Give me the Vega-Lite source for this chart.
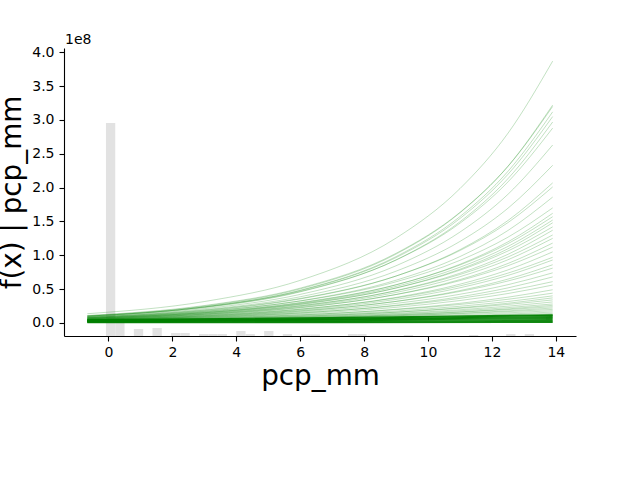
{
 "$schema": "https://vega.github.io/schema/vega-lite/v6.json",
 "autosize": {"type": "none"},
 "width": 512,
 "height": 288,
 "padding": {"left": 64, "top": 48, "right": 64, "bottom": 144},
 "background": "white",
 "config": {
  "view": {"stroke": null},
  "font": "DejaVu Sans",
  "axis": {"grid": false, "domainColor": "black", "tickColor": "black", "labelColor": "black", "titleColor": "black", "domainWidth": 1.1, "tickWidth": 1.1, "tickSize": 5, "labelFont": "DejaVu Sans", "labelFontSize": 14, "titleFont": "DejaVu Sans", "titleFontSize": 27.8, "titleFontWeight": "normal"}
 },
 "title": {"text": "1e8", "anchor": "start", "frame": "group", "fontSize": 14, "fontWeight": "normal", "font": "DejaVu Sans", "baseline": "alphabetic", "offset": 4, "dx": 1, "dy": 17, "color": "black"},
 "datasets": {
  "hist": [
   {"x0": -0.0776, "x1": 0.2136, "count": 426},
   {"x0": 0.2136, "x1": 0.5048, "count": 36},
   {"x0": 0.796, "x1": 1.0872, "count": 14},
   {"x0": 1.3784, "x1": 1.6696, "count": 16},
   {"x0": 1.9608, "x1": 2.252, "count": 6},
   {"x0": 2.252, "x1": 2.5432, "count": 6},
   {"x0": 2.8344, "x1": 3.1256, "count": 4},
   {"x0": 3.1256, "x1": 3.4168, "count": 4},
   {"x0": 3.4168, "x1": 3.708, "count": 4},
   {"x0": 3.9992, "x1": 4.2904, "count": 10},
   {"x0": 4.2904, "x1": 4.5816, "count": 4},
   {"x0": 4.8728, "x1": 5.164, "count": 10},
   {"x0": 5.4552, "x1": 5.7464, "count": 4},
   {"x0": 6.0376, "x1": 6.3288, "count": 3},
   {"x0": 6.3288, "x1": 6.62, "count": 3},
   {"x0": 7.4936, "x1": 7.7848, "count": 4},
   {"x0": 7.7848, "x1": 8.076, "count": 4},
   {"x0": 9.2408, "x1": 9.532, "count": 2},
   {"x0": 11.2792, "x1": 11.5704, "count": 2},
   {"x0": 12.444, "x1": 12.7352, "count": 4},
   {"x0": 13.0264, "x1": 13.3176, "count": 4}
  ],
  "band": [
   {"b": 1, "x": -0.66, "y": 0.003e8}, {"b": 1, "x": 7, "y": 0.005e8}, {"b": 1, "x": 13.9, "y": 0.008e8},
   {"b": 2, "x": -0.66, "y": 0.01e8}, {"b": 2, "x": 7, "y": 0.015e8}, {"b": 2, "x": 13.9, "y": 0.02e8},
   {"b": 3, "x": -0.66, "y": 0.015e8}, {"b": 3, "x": 7, "y": 0.023e8}, {"b": 3, "x": 13.9, "y": 0.035e8},
   {"b": 4, "x": -0.66, "y": 0.02e8}, {"b": 4, "x": 7, "y": 0.032e8}, {"b": 4, "x": 13.9, "y": 0.05e8},
   {"b": 5, "x": -0.66, "y": 0.025e8}, {"b": 5, "x": 7, "y": 0.04e8}, {"b": 5, "x": 13.9, "y": 0.065e8},
   {"b": 6, "x": -0.66, "y": 0.03e8}, {"b": 6, "x": 7, "y": 0.048e8}, {"b": 6, "x": 13.9, "y": 0.08e8},
   {"b": 7, "x": -0.66, "y": 0.035e8}, {"b": 7, "x": 7, "y": 0.057e8}, {"b": 7, "x": 13.9, "y": 0.095e8},
   {"b": 8, "x": -0.66, "y": 0.04e8}, {"b": 8, "x": 7, "y": 0.066e8}, {"b": 8, "x": 13.9, "y": 0.11e8},
   {"b": 9, "x": -0.66, "y": 0.05e8}, {"b": 9, "x": 7, "y": 0.077e8}, {"b": 9, "x": 13.9, "y": 0.12e8}
  ],
  "ice": [
   {"g":1,"x":-0.66,"y":0.136e8},{"g":1,"x":3,"y":0.3156e8},{"g":1,"x":6,"y":0.629e8},{"g":1,"x":9,"y":1.254e8},{"g":1,"x":11,"y":1.986e8},{"g":1,"x":12.5,"y":2.803e8},{"g":1,"x":13.9,"y":3.87e8},
   {"g":2,"x":-0.66,"y":0.105e8},{"g":2,"x":3,"y":0.248e8},{"g":2,"x":6,"y":0.5025e8},{"g":2,"x":9,"y":1.0176e8},{"g":2,"x":11,"y":1.628e8},{"g":2,"x":12.5,"y":2.316e8},{"g":2,"x":13.9,"y":3.22e8},
   {"g":3,"x":-0.66,"y":0.11e8},{"g":3,"x":3,"y":0.2566e8},{"g":3,"x":6,"y":0.5138e8},{"g":3,"x":9,"y":1.029e8},{"g":3,"x":11,"y":1.635e8},{"g":3,"x":12.5,"y":2.313e8},{"g":3,"x":13.9,"y":3.2e8},
   {"g":4,"x":-0.66,"y":0.1e8},{"g":4,"x":3,"y":0.2374e8},{"g":4,"x":6,"y":0.4824e8},{"g":4,"x":9,"y":0.98e8},{"g":4,"x":11,"y":1.572e8},{"g":4,"x":12.5,"y":2.24e8},{"g":4,"x":13.9,"y":3.12e8},
   {"g":5,"x":-0.66,"y":0.1e8},{"g":5,"x":3,"y":0.236e8},{"g":5,"x":6,"y":0.4775e8},{"g":5,"x":9,"y":0.966e8},{"g":5,"x":11,"y":1.544e8},{"g":5,"x":12.5,"y":2.196e8},{"g":5,"x":13.9,"y":3.05e8},
   {"g":6,"x":-0.66,"y":0.095e8},{"g":6,"x":3,"y":0.2257e8},{"g":6,"x":6,"y":0.4587e8},{"g":6,"x":9,"y":0.932e8},{"g":6,"x":11,"y":1.495e8},{"g":6,"x":12.5,"y":2.132e8},{"g":6,"x":13.9,"y":2.97e8},
   {"g":7,"x":-0.66,"y":0.1e8},{"g":7,"x":3,"y":0.2327e8},{"g":7,"x":6,"y":0.465e8},{"g":7,"x":9,"y":0.929e8},{"g":7,"x":11,"y":1.474e8},{"g":7,"x":12.5,"y":2.084e8},{"g":7,"x":13.9,"y":2.88e8},
   {"g":8,"x":-0.66,"y":0.09e8},{"g":8,"x":3,"y":0.2103e8},{"g":8,"x":6,"y":0.4214e8},{"g":8,"x":9,"y":0.845e8},{"g":8,"x":11,"y":1.343e8},{"g":8,"x":12.5,"y":1.901e8},{"g":8,"x":13.9,"y":2.63e8},
   {"g":9,"x":-0.66,"y":0.085e8},{"g":9,"x":3,"y":0.1954e8},{"g":9,"x":6,"y":0.3865e8},{"g":9,"x":9,"y":0.7647e8},{"g":9,"x":11,"y":1.2045e8},{"g":9,"x":12.5,"y":1.695e8},{"g":9,"x":13.9,"y":2.33e8},
   {"g":10,"x":-0.66,"y":0.08e8},{"g":10,"x":3,"y":0.1813e8},{"g":10,"x":6,"y":0.3543e8},{"g":10,"x":9,"y":0.6927e8},{"g":10,"x":11,"y":1.0828e8},{"g":10,"x":12.5,"y":1.5136e8},{"g":10,"x":13.9,"y":2.07e8},
   {"g":11,"x":-0.66,"y":0.085e8},{"g":11,"x":3,"y":0.1883e8},{"g":11,"x":6,"y":0.3612e8},{"g":11,"x":9,"y":0.6932e8},{"g":11,"x":11,"y":1.07e8},{"g":11,"x":12.5,"y":1.4825e8},{"g":11,"x":13.9,"y":2.01e8},
   {"g":12,"x":-0.66,"y":0.075e8},{"g":12,"x":3,"y":0.1681e8},{"g":12,"x":6,"y":0.3258e8},{"g":12,"x":9,"y":0.6314e8},{"g":12,"x":11,"y":0.981e8},{"g":12,"x":12.5,"y":1.366e8},{"g":12,"x":13.9,"y":1.86e8},
   {"g":13,"x":-0.66,"y":0.08e8},{"g":13,"x":3,"y":0.1725e8},{"g":13,"x":6,"y":0.3238e8},{"g":13,"x":9,"y":0.6078e8},{"g":13,"x":11,"y":0.925e8},{"g":13,"x":12.5,"y":1.267e8},{"g":13,"x":13.9,"y":1.7e8},
   {"g":14,"x":-0.66,"y":0.07e8},{"g":14,"x":3,"y":0.1542e8},{"g":14,"x":6,"y":0.2946e8},{"g":14,"x":9,"y":0.5628e8},{"g":14,"x":11,"y":0.8666e8},{"g":14,"x":12.5,"y":1.198e8},{"g":14,"x":13.9,"y":1.62e8},
   {"g":15,"x":-0.66,"y":0.075e8},{"g":15,"x":3,"y":0.1611e8},{"g":15,"x":6,"y":0.3014e8},{"g":15,"x":9,"y":0.5641e8},{"g":15,"x":11,"y":0.8565e8},{"g":15,"x":12.5,"y":1.1715e8},{"g":15,"x":13.9,"y":1.57e8},
   {"g":16,"x":-0.66,"y":0.07e8},{"g":16,"x":3,"y":0.1518e8},{"g":16,"x":6,"y":0.2861e8},{"g":16,"x":9,"y":0.5396e8},{"g":16,"x":11,"y":0.8232e8},{"g":16,"x":12.5,"y":1.1305e8},{"g":16,"x":13.9,"y":1.52e8},
   {"g":17,"x":-0.66,"y":0.065e8},{"g":17,"x":3,"y":0.1426e8},{"g":17,"x":6,"y":0.2715e8},{"g":17,"x":9,"y":0.517e8},{"g":17,"x":11,"y":0.7937e8},{"g":17,"x":12.5,"y":1.095e8},{"g":17,"x":13.9,"y":1.48e8},
   {"g":18,"x":-0.66,"y":0.07e8},{"g":18,"x":3,"y":0.1492e8},{"g":18,"x":6,"y":0.2774e8},{"g":18,"x":9,"y":0.5158e8},{"g":18,"x":11,"y":0.78e8},{"g":18,"x":12.5,"y":1.063e8},{"g":18,"x":13.9,"y":1.42e8},
   {"g":19,"x":-0.66,"y":0.06e8},{"g":19,"x":3,"y":0.1317e8},{"g":19,"x":6,"y":0.2509e8},{"g":19,"x":9,"y":0.4781e8},{"g":19,"x":11,"y":0.7345e8},{"g":19,"x":12.5,"y":1.014e8},{"g":19,"x":13.9,"y":1.37e8},
   {"g":20,"x":-0.66,"y":0.065e8},{"g":20,"x":3,"y":0.138e8},{"g":20,"x":6,"y":0.2558e8},{"g":20,"x":9,"y":0.4744e8},{"g":20,"x":11,"y":0.7158e8},{"g":20,"x":12.5,"y":0.9744e8},{"g":20,"x":13.9,"y":1.3e8},
   {"g":21,"x":-0.66,"y":0.06e8},{"g":21,"x":3,"y":0.1287e8},{"g":21,"x":6,"y":0.2407e8},{"g":21,"x":9,"y":0.4499e8},{"g":21,"x":11,"y":0.6828e8},{"g":21,"x":12.5,"y":0.9335e8},{"g":21,"x":13.9,"y":1.25e8},
   {"g":22,"x":-0.66,"y":0.055e8},{"g":22,"x":3,"y":0.1189e8},{"g":22,"x":6,"y":0.2236e8},{"g":22,"x":9,"y":0.4205e8},{"g":22,"x":11,"y":0.6407e8},{"g":22,"x":12.5,"y":0.8785e8},{"g":22,"x":13.9,"y":1.18e8},
   {"g":23,"x":-0.66,"y":0.06e8},{"g":23,"x":3,"y":0.1252e8},{"g":23,"x":6,"y":0.2289e8},{"g":23,"x":9,"y":0.4184e8},{"g":23,"x":11,"y":0.6253e8},{"g":23,"x":12.5,"y":0.8454e8},{"g":23,"x":13.9,"y":1.12e8},
   {"g":24,"x":-0.66,"y":0.05e8},{"g":24,"x":3,"y":0.1075e8},{"g":24,"x":6,"y":0.2013e8},{"g":24,"x":9,"y":0.3769e8},{"g":24,"x":11,"y":0.5726e8},{"g":24,"x":12.5,"y":0.7835e8},{"g":24,"x":13.9,"y":1.05e8},
   {"g":25,"x":-0.66,"y":0.055e8},{"g":25,"x":3,"y":0.1132e8},{"g":25,"x":6,"y":0.2044e8},{"g":25,"x":9,"y":0.3693e8},{"g":25,"x":11,"y":0.5477e8},{"g":25,"x":12.5,"y":0.736e8},{"g":25,"x":13.9,"y":0.97e8},
   {"g":26,"x":-0.66,"y":0.05e8},{"g":26,"x":3,"y":0.1043e8},{"g":26,"x":6,"y":0.1904e8},{"g":26,"x":9,"y":0.3478e8},{"g":26,"x":11,"y":0.5195e8},{"g":26,"x":12.5,"y":0.702e8},{"g":26,"x":13.9,"y":0.93e8},
   {"g":27,"x":-0.66,"y":0.045e8},{"g":27,"x":3,"y":0.0945e8},{"g":27,"x":6,"y":0.1735e8},{"g":27,"x":9,"y":0.3186e8},{"g":27,"x":11,"y":0.478e8},{"g":27,"x":12.5,"y":0.6476e8},{"g":27,"x":13.9,"y":0.86e8},
   {"g":28,"x":-0.66,"y":0.05e8},{"g":28,"x":3,"y":0.1007e8},{"g":28,"x":6,"y":0.1787e8},{"g":28,"x":9,"y":0.3174e8},{"g":28,"x":11,"y":0.4651e8},{"g":28,"x":12.5,"y":0.6196e8},{"g":28,"x":13.9,"y":0.81e8},
   {"g":29,"x":-0.66,"y":0.045e8},{"g":29,"x":3,"y":0.091e8},{"g":29,"x":6,"y":0.162e8},{"g":29,"x":9,"y":0.2885e8},{"g":29,"x":11,"y":0.4236e8},{"g":29,"x":12.5,"y":0.565e8},{"g":29,"x":13.9,"y":0.74e8},
   {"g":30,"x":-0.66,"y":0.04e8},{"g":30,"x":3,"y":0.0815e8},{"g":30,"x":6,"y":0.1462e8},{"g":30,"x":9,"y":0.2621e8},{"g":30,"x":11,"y":0.3867e8},{"g":30,"x":12.5,"y":0.5176e8},{"g":30,"x":13.9,"y":0.68e8},
   {"g":31,"x":-0.66,"y":0.045e8},{"g":31,"x":3,"y":0.0867e8},{"g":31,"x":6,"y":0.1483e8},{"g":31,"x":9,"y":0.2538e8},{"g":31,"x":11,"y":0.363e8},{"g":31,"x":12.5,"y":0.4748e8},{"g":31,"x":13.9,"y":0.61e8},
   {"g":32,"x":-0.66,"y":0.04e8},{"g":32,"x":3,"y":0.0777e8},{"g":32,"x":6,"y":0.1338e8},{"g":32,"x":9,"y":0.2304e8},{"g":32,"x":11,"y":0.331e8},{"g":32,"x":12.5,"y":0.4344e8},{"g":32,"x":13.9,"y":0.56e8},
   {"g":33,"x":-0.66,"y":0.035e8},{"g":33,"x":3,"y":0.068e8},{"g":33,"x":6,"y":0.117e8},{"g":33,"x":9,"y":0.2016e8},{"g":33,"x":11,"y":0.2897e8},{"g":33,"x":12.5,"y":0.38e8},{"g":33,"x":13.9,"y":0.49e8},
   {"g":34,"x":-0.66,"y":0.04e8},{"g":34,"x":3,"y":0.0731e8},{"g":34,"x":6,"y":0.1198e8},{"g":34,"x":9,"y":0.1964e8},{"g":34,"x":11,"y":0.2729e8},{"g":34,"x":12.5,"y":0.3494e8},{"g":34,"x":13.9,"y":0.44e8},
   {"g":35,"x":-0.66,"y":0.035e8},{"g":35,"x":3,"y":0.0646e8},{"g":35,"x":6,"y":0.1066e8},{"g":35,"x":9,"y":0.1762e8},{"g":35,"x":11,"y":0.2462e8},{"g":35,"x":12.5,"y":0.3164e8},{"g":35,"x":13.9,"y":0.4e8},
   {"g":36,"x":-0.66,"y":0.03e8},{"g":36,"x":3,"y":0.0564e8},{"g":36,"x":6,"y":0.0947e8},{"g":36,"x":9,"y":0.1589e8},{"g":36,"x":11,"y":0.2243e8},{"g":36,"x":12.5,"y":0.2905e8},{"g":36,"x":13.9,"y":0.37e8},
   {"g":37,"x":-0.66,"y":0.035e8},{"g":37,"x":3,"y":0.062e8},{"g":37,"x":6,"y":0.099e8},{"g":37,"x":9,"y":0.1582e8},{"g":37,"x":11,"y":0.2162e8},{"g":37,"x":12.5,"y":0.2732e8},{"g":37,"x":13.9,"y":0.34e8},
   {"g":38,"x":-0.66,"y":0.03e8},{"g":38,"x":3,"y":0.054e8},{"g":38,"x":6,"y":0.0873e8},{"g":38,"x":9,"y":0.1412e8},{"g":38,"x":11,"y":0.1946e8},{"g":38,"x":12.5,"y":0.2476e8},{"g":38,"x":13.9,"y":0.31e8},
   {"g":39,"x":-0.66,"y":0.03e8},{"g":39,"x":3,"y":0.0526e8},{"g":39,"x":6,"y":0.0833e8},{"g":39,"x":9,"y":0.1321e8},{"g":39,"x":11,"y":0.1795e8},{"g":39,"x":12.5,"y":0.2258e8},{"g":39,"x":13.9,"y":0.28e8},
   {"g":40,"x":-0.66,"y":0.025e8},{"g":40,"x":3,"y":0.045e8},{"g":40,"x":6,"y":0.073e8},{"g":40,"x":9,"y":0.1183e8},{"g":40,"x":11,"y":0.1631e8},{"g":40,"x":12.5,"y":0.2076e8},{"g":40,"x":13.9,"y":0.26e8},
   {"g":41,"x":-0.66,"y":0.03e8},{"g":41,"x":3,"y":0.0506e8},{"g":41,"x":6,"y":0.0777e8},{"g":41,"x":9,"y":0.1192e8},{"g":41,"x":11,"y":0.1586e8},{"g":41,"x":12.5,"y":0.1965e8},{"g":41,"x":13.9,"y":0.24e8},
   {"g":42,"x":-0.66,"y":0.025e8},{"g":42,"x":3,"y":0.0432e8},{"g":42,"x":6,"y":0.0676e8},{"g":42,"x":9,"y":0.1058e8},{"g":42,"x":11,"y":0.1427e8},{"g":42,"x":12.5,"y":0.1785e8},{"g":42,"x":13.9,"y":0.22e8},
   {"g":43,"x":-0.66,"y":0.03e8},{"g":43,"x":3,"y":0.0483e8},{"g":43,"x":6,"y":0.0714e8},{"g":43,"x":9,"y":0.1056e8},{"g":43,"x":11,"y":0.137e8},{"g":43,"x":12.5,"y":0.1666e8},{"g":43,"x":13.9,"y":0.2e8},
   {"g":44,"x":-0.66,"y":0.025e8},{"g":44,"x":3,"y":0.0411e8},{"g":44,"x":6,"y":0.0617e8},{"g":44,"x":9,"y":0.0926e8},{"g":44,"x":11,"y":0.1215e8},{"g":44,"x":12.5,"y":0.1489e8},{"g":44,"x":13.9,"y":0.18e8},
   {"g":45,"x":-0.66,"y":0.02e8},{"g":45,"x":3,"y":0.0337e8},{"g":45,"x":6,"y":0.0518e8},{"g":45,"x":9,"y":0.0795e8},{"g":45,"x":11,"y":0.1057e8},{"g":45,"x":12.5,"y":0.131e8},{"g":45,"x":13.9,"y":0.16e8},
   {"g":46,"x":-0.66,"y":0.025e8},{"g":46,"x":3,"y":0.0386e8},{"g":46,"x":6,"y":0.055e8},{"g":46,"x":9,"y":0.0784e8},{"g":46,"x":11,"y":0.0993e8},{"g":46,"x":12.5,"y":0.1186e8},{"g":46,"x":13.9,"y":0.14e8},
   {"g":47,"x":-0.66,"y":0.02e8},{"g":47,"x":3,"y":0.0314e8},{"g":47,"x":6,"y":0.0454e8},{"g":47,"x":9,"y":0.0657e8},{"g":47,"x":11,"y":0.084e8},{"g":47,"x":12.5,"y":0.101e8},{"g":47,"x":13.9,"y":0.12e8},
   {"g":48,"x":-0.66,"y":0.025e8},{"g":48,"x":3,"y":0.0363e8},{"g":48,"x":6,"y":0.0492e8},{"g":48,"x":9,"y":0.0668e8},{"g":48,"x":11,"y":0.0819e8},{"g":48,"x":12.5,"y":0.0954e8},{"g":48,"x":13.9,"y":0.11e8},
   {"g":49,"x":-0.66,"y":0.02e8},{"g":49,"x":3,"y":0.03e8},{"g":49,"x":6,"y":0.0418e8},{"g":49,"x":9,"y":0.0582e8},{"g":49,"x":11,"y":0.0726e8},{"g":49,"x":12.5,"y":0.0857e8},{"g":49,"x":13.9,"y":0.1e8},
   {"g":50,"x":-0.66,"y":0.03e8},{"g":50,"x":3,"y":0.0395e8},{"g":50,"x":6,"y":0.0496e8},{"g":50,"x":9,"y":0.0622e8},{"g":50,"x":11,"y":0.0723e8},{"g":50,"x":12.5,"y":0.081e8},{"g":50,"x":13.9,"y":0.09e8},
   {"g":51,"x":-0.66,"y":0.02e8},{"g":51,"x":3,"y":0.0283e8},{"g":51,"x":6,"y":0.0377e8},{"g":51,"x":9,"y":0.0502e8},{"g":51,"x":11,"y":0.0607e8},{"g":51,"x":12.5,"y":0.07e8},{"g":51,"x":13.9,"y":0.08e8},
   {"g":52,"x":-0.66,"y":0.025e8},{"g":52,"x":3,"y":0.0324e8},{"g":52,"x":6,"y":0.04e8},{"g":52,"x":9,"y":0.0495e8},{"g":52,"x":11,"y":0.057e8},{"g":52,"x":12.5,"y":0.0634e8},{"g":52,"x":13.9,"y":0.07e8}
  ]
 },
 "layer": [
  {
   "data": {"name": "hist"},
   "mark": {"type": "rect", "color": "#e2e2e2"},
   "encoding": {
    "x": {"field": "x0", "type": "quantitative", "scale": {"domain": [-1.39, 14.63], "nice": false, "zero": false}, "axis": {"values": [0, 2, 4, 6, 8, 10, 12, 14], "format": "d", "labelPadding": 4, "title": "pcp_mm", "titleX": 256, "titleY": 48, "titleAlign": "center", "titleBaseline": "alphabetic"}},
    "x2": {"field": "x1"},
    "y": {"field": "count", "type": "quantitative", "scale": {"domain": [0, 576], "nice": false}, "axis": null},
    "y2": {"datum": 0}
   }
  },
  {
   "data": {"name": "ice"},
   "mark": {"type": "line", "color": "green", "opacity": 0.3, "strokeWidth": 0.8, "interpolate": "monotone"},
   "encoding": {
    "x": {"field": "x", "type": "quantitative", "title": "pcp_mm"},
    "y": {"field": "y", "type": "quantitative", "scale": {"domain": [-0.1935e8, 4.064e8], "nice": false, "zero": false}, "axis": {"orient": "left", "values": [0, 0.5e8, 1e8, 1.5e8, 2e8, 2.5e8, 3e8, 3.5e8, 4e8], "labelExpr": "format(datum.value / 1e8, '.1f')", "labelPadding": 5, "title": "f(x) | pcp_mm", "titleAngle": 270, "titleX": -44, "titleY": 144, "titleAlign": "center", "titleBaseline": "alphabetic"}},
    "detail": {"field": "g", "type": "nominal"}
   }
  },
  {
   "data": {"name": "band"},
   "mark": {"type": "line", "color": "green", "opacity": 0.9, "strokeWidth": 1.2, "interpolate": "monotone"},
   "encoding": {
    "x": {"field": "x", "type": "quantitative", "title": "pcp_mm"},
    "y": {"field": "y", "type": "quantitative", "scale": {"domain": [-0.1935e8, 4.064e8], "nice": false, "zero": false}, "axis": null},
    "detail": {"field": "b", "type": "nominal"}
   }
  }
 ],
 "resolve": {"scale": {"y": "independent"}}
}
